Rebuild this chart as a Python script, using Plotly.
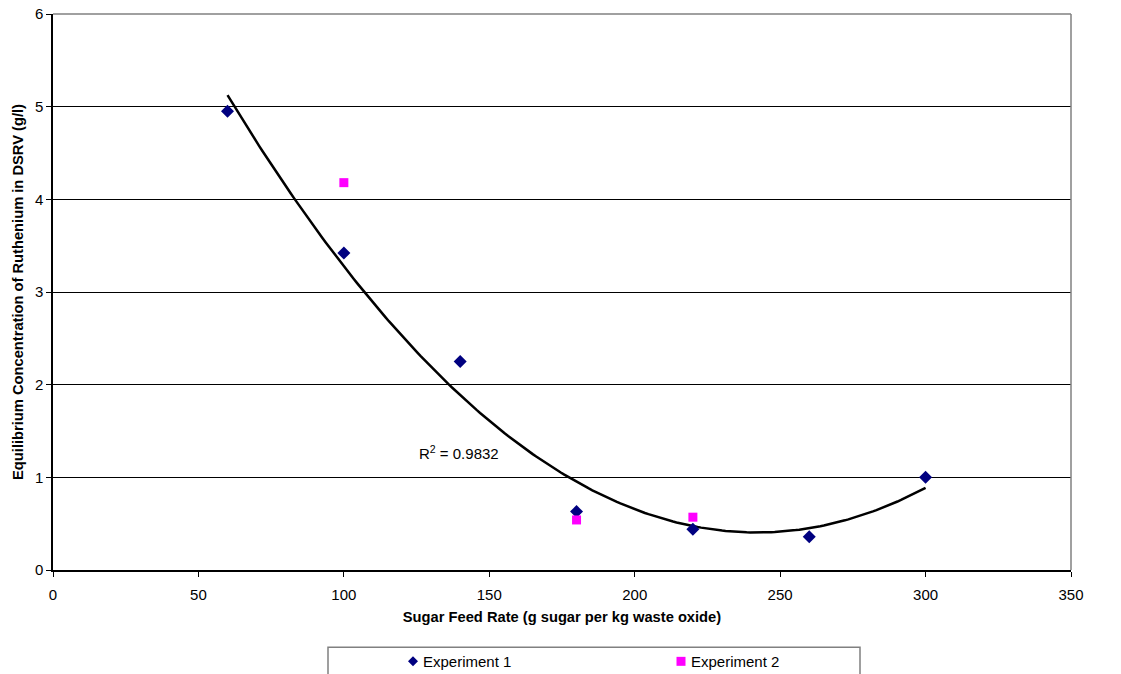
import numpy as np
import plotly.graph_objects as go

# Data
exp1_x = [60, 100, 140, 180, 220, 260, 300]
exp1_y = [4.95, 3.42, 2.25, 0.63, 0.44, 0.36, 1.00]
exp2_x = [100, 180, 220]
exp2_y = [4.18, 0.54, 0.57]
x_ticks = [0, 50, 100, 150, 200, 250, 300, 350]
y_ticks = [0, 1, 2, 3, 4, 5, 6]
series_names = ["Experiment 1", "Experiment 2"]
r2_label = "R<sup>2</sup> = 0.9832"

# Polynomial (order 2) trendline fitted to Experiment 1
coef = np.polyfit(np.array(exp1_x, float), np.array(exp1_y, float), 2)
fit_x = np.linspace(min(exp1_x), max(exp1_x), 200)
fit_y = np.polyval(coef, fit_x)

FONT = "Liberation Sans, Arial, sans-serif"
NAVY = "#000080"
MAGENTA = "#FF00FF"

W, H = 1121, 674
L, R, T, B = 53, 1071, 13.5, 570.5
def px_x(px):
    return (px - L) / (R - L)
def px_y(py):
    return (B - py) / (B - T)

fig = go.Figure()
fig.add_trace(go.Scatter(x=fit_x, y=fit_y, mode="lines",
                         line=dict(color="black", width=2.5),
                         showlegend=False, hoverinfo="skip"))
fig.add_trace(go.Scatter(x=exp1_x, y=exp1_y, mode="markers", name=series_names[0],
                         showlegend=False,
                         marker=dict(symbol="diamond", color=NAVY, size=10)))
fig.add_trace(go.Scatter(x=exp2_x, y=exp2_y, mode="markers", name=series_names[1],
                         showlegend=False,
                         marker=dict(symbol="square", color=MAGENTA, size=9)))

fig.add_annotation(x=139.5, y=1.27, xref="x", yref="y", text=r2_label,
                   showarrow=False, font=dict(family=FONT, size=15, color="black"))

# plot-area border (gray top/right)
fig.add_shape(type="line", xref="paper", yref="paper", x0=0, x1=1, y0=1, y1=1,
              line=dict(color="#808080", width=1.5), layer="above")
fig.add_shape(type="line", xref="paper", yref="paper", x0=1, x1=1, y0=0, y1=1,
              line=dict(color="#808080", width=1.5), layer="above")

# legend box (cut off at bottom as in reference)
fig.add_shape(type="rect", xref="paper", yref="paper",
              x0=px_x(328), x1=px_x(860), y0=px_y(648), y1=px_y(700),
              line=dict(color="#808080", width=1.5), fillcolor="rgba(0,0,0,0)")

# legend entries: markers + text
ly = 662
dcx, s = 413, 5
fig.add_shape(type="path", xref="paper", yref="paper",
              path=(f"M {px_x(dcx - s)} {px_y(ly)} L {px_x(dcx)} {px_y(ly - s)} "
                    f"L {px_x(dcx + s)} {px_y(ly)} L {px_x(dcx)} {px_y(ly + s)} Z"),
              fillcolor=NAVY, line=dict(color=NAVY, width=0))
scx, q = 681, 4.5
fig.add_shape(type="rect", xref="paper", yref="paper",
              x0=px_x(scx - q), x1=px_x(scx + q), y0=px_y(ly + q), y1=px_y(ly - q),
              fillcolor=MAGENTA, line=dict(color=MAGENTA, width=0))
for tx, name in [(421, series_names[0]), (689, series_names[1])]:
    fig.add_annotation(x=px_x(tx), y=px_y(ly), xref="paper", yref="paper",
                       xanchor="left", yanchor="middle", text=name, showarrow=False,
                       font=dict(family=FONT, size=15, color="black"))

fig.update_layout(
    width=W, height=H,
    margin=dict(l=L, r=W - R, t=T, b=H - B, autoexpand=False),
    paper_bgcolor="white", plot_bgcolor="white",
    font=dict(family=FONT, size=15, color="black"),
    showlegend=False,
)
fig.update_xaxes(range=[0, 350], tickvals=x_ticks, showgrid=False, zeroline=False,
                 automargin=False,
                 showline=True, linecolor="black", linewidth=1.5,
                 ticks="outside", ticklen=5, tickcolor="black",
                 ticklabelstandoff=5,
                 tickfont=dict(family=FONT, size=15),
                 title=dict(text="<b>Sugar Feed Rate (g sugar per kg waste oxide)</b>",
                            font=dict(family=FONT, size=14.7), standoff=10))
fig.update_yaxes(range=[0, 6], tickvals=y_ticks, showgrid=True, gridcolor="black",
                 gridwidth=1, zeroline=False, automargin=False,
                 showline=True, linecolor="black", linewidth=1.5,
                 ticks="outside", ticklen=5, tickcolor="black",
                 tickfont=dict(family=FONT, size=15),
                 title=dict(text="<b>Equilibrium Concentration of Ruthenium in DSRV (g/l)</b>",
                            font=dict(family=FONT, size=14.7), standoff=8))

fig.write_html("out.html", config={"displayModeBar": False},
               post_script="document.body.style.margin='0';document.body.style.overflow='hidden';")
